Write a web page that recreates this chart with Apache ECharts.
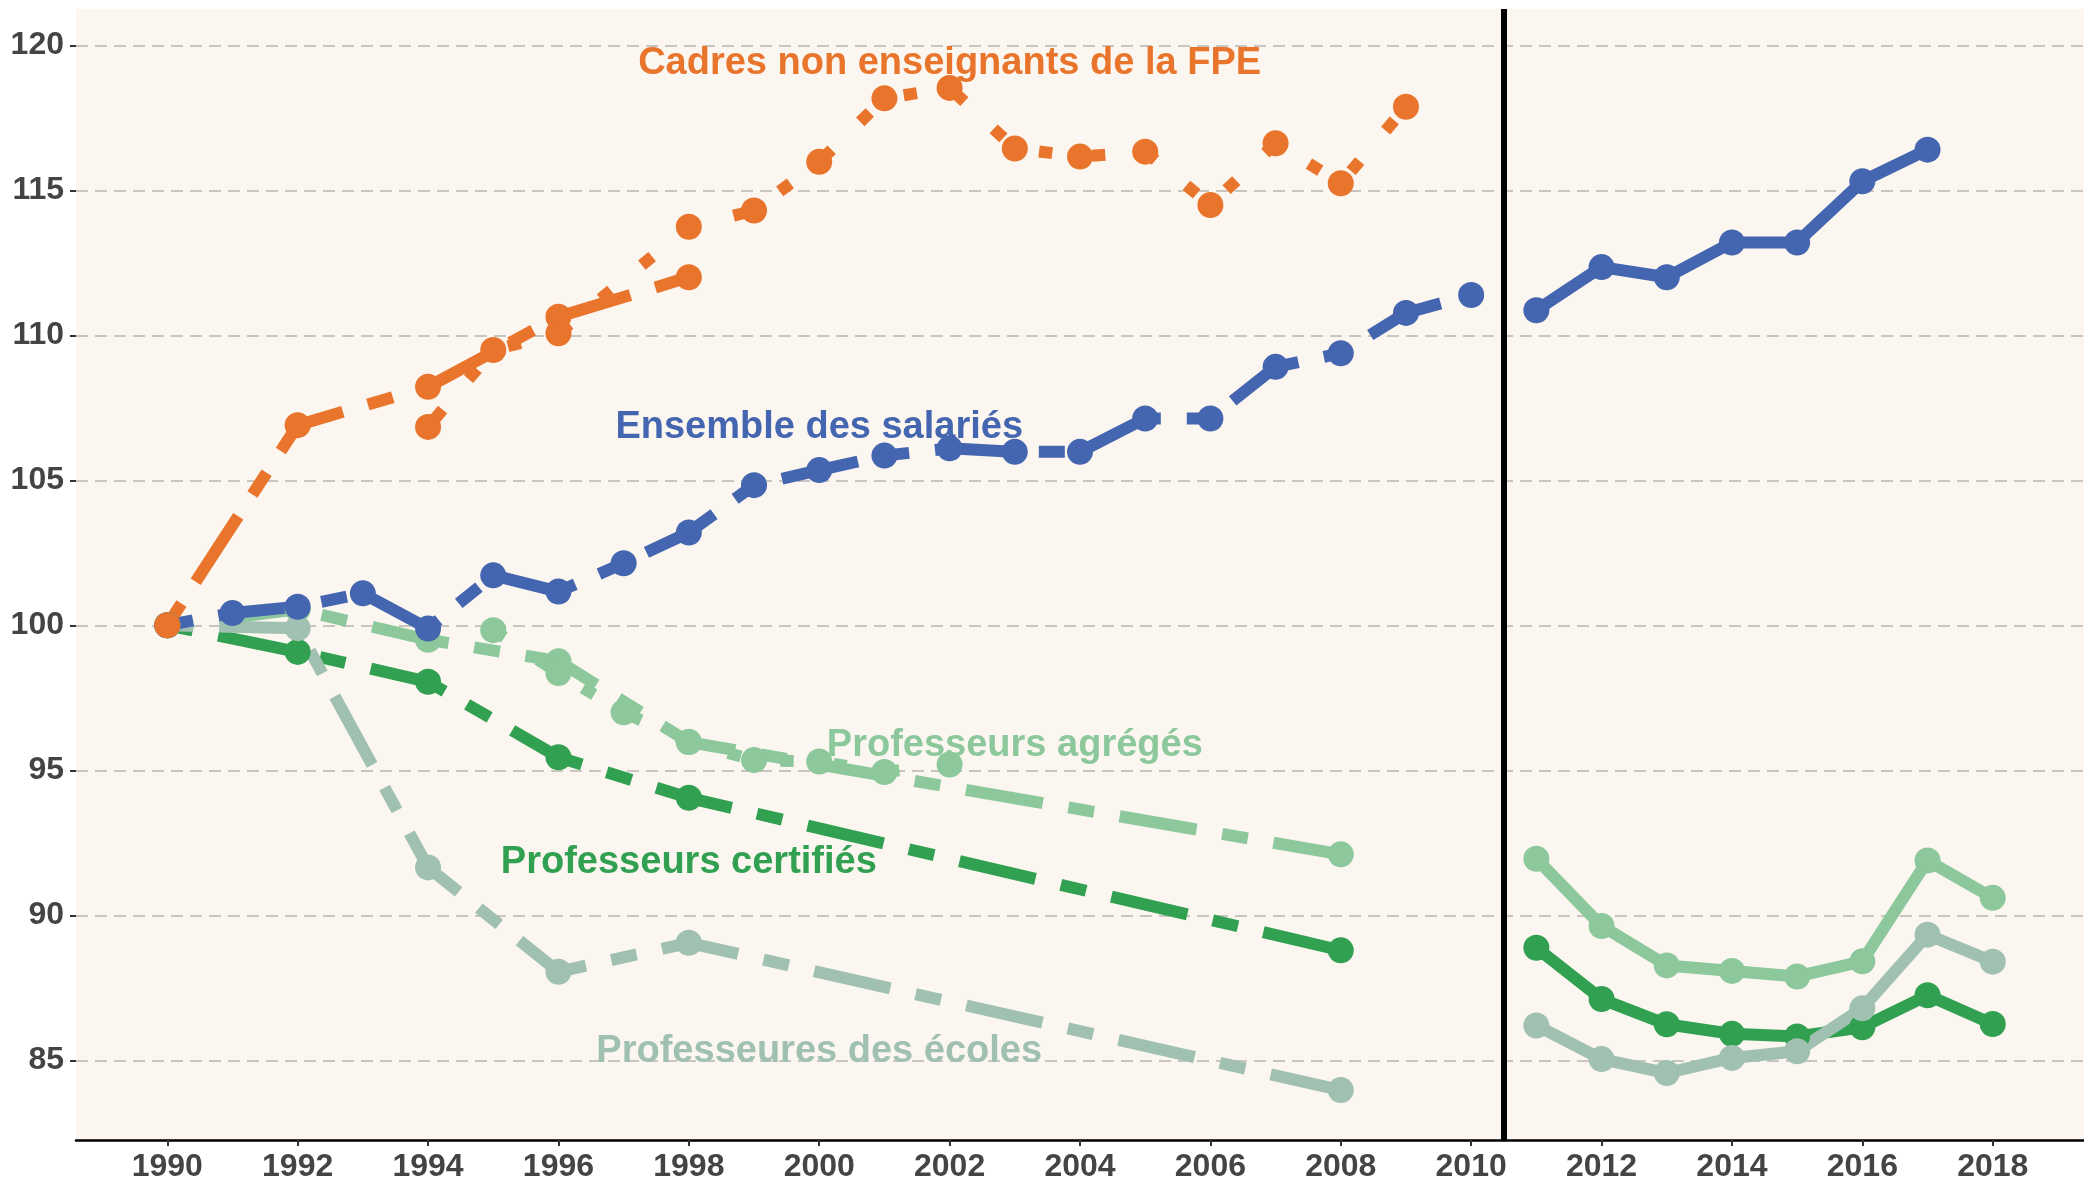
<!DOCTYPE html>
<html>
<head>
<meta charset="utf-8">
<script src="https://cdn.jsdelivr.net/npm/echarts@6/dist/echarts.min.js"></script>
<style>
html,body{margin:0;padding:0;background:#fff;}
#chart{width:2084px;height:1187px;}
</style>
</head>
<body>
<div id="chart"></div>
<script>
// ---------- data ----------
const xTicks = [1990,1992,1994,1996,1998,2000,2002,2004,2006,2008,2010,2012,2014,2016,2018];
const yTicks = [85,90,95,100,105,110,115,120];
const breakYear = 2010.5;

const cadresBiYears = [1990, 1992, 1994, 1996, 1998];
const cadresBiValues = [100, 106.9, 108.22, 110.64, 112.0];
const cadresYears = [1994, 1995, 1996, 1998, 1999, 2000, 2001, 2002, 2003, 2004, 2005, 2006, 2007, 2008, 2009];
const cadresValues = [106.84, 109.49, 110.07, 113.74, 114.3, 115.98, 118.17, 118.53, 116.44, 116.16, 116.33, 114.49, 116.62, 115.24, 117.88];

const ensemblePreYears = [1990,1991,1992,1993,1994,1995,1996,1997,1998,1999,2000,2001,2002,2003,2004,2005,2006,2007,2008,2009,2010];
const ensemblePreValues = [100, 100.42, 100.64, 101.1, 99.89, 101.72, 101.16, 102.14, 103.2, 104.83, 105.35, 105.85, 106.1, 105.98, 105.98, 107.13, 107.13, 108.91, 109.38, 110.77, 111.39];
const ensemblePostYears = [2011,2012,2013,2014,2015,2016,2017];
const ensemblePostValues = [110.86, 112.35, 112.0, 113.2, 113.2, 115.31, 116.4];

const teachPreYears = [1990, 1992, 1994, 1996, 1998, 2008];
const agregesPreValues = [100, 100.55, 99.5, 98.76, 95.97, 92.1];
const agregesAnYears = [1995, 1996, 1997, 1998, 1999, 2000, 2001, 2002];
const agregesAnValues = [99.83, 98.35, 97.0, 95.97, 95.35, 95.3, 94.94, 95.2];
const certifiesPreValues = [100, 99.08, 98.05, 95.45, 94.05, 88.79];
const ecolesPreValues = [100, 99.9, 91.65, 88.05, 89.05, 83.97];

const teachPostYears = [2011,2012,2013,2014,2015,2016,2017,2018];
const agregesPostValues = [91.95, 89.63, 88.27, 88.08, 87.89, 88.41, 91.89, 90.6];
const certifiesPostValues = [88.88, 87.11, 86.24, 85.91, 85.82, 86.14, 87.24, 86.25];
const ecolesPostValues = [86.2, 85.04, 84.56, 85.08, 85.31, 86.79, 89.33, 88.4];

const labelTexts = ['Cadres non enseignants de la FPE', 'Ensemble des salariés', 'Professeurs agrégés', 'Professeurs certifiés', 'Professeures des écoles'];
const labelX = [2002, 2000, 2003, 1998, 2000];
const labelY = [119.37, 106.81, 95.84, 91.81, 85.29];

// ---------- styles ----------
const C = {
  cadres: '#E9752C',
  ensemble: '#4465AF',
  agreges: '#8CC89B',
  certifies: '#31A051',
  ecoles: '#A0C1B1'
};
const labelColors = [C.cadres, C.ensemble, C.agreges, C.certifies, C.ecoles];
const LW = 12;
const TWODASH = [26, 26, 78, 26];
const DOTTED = [13.3, 40];
const SYM = 26;
const FONT = 'Liberation Sans, Arial, sans-serif';

function pairs(xs, ys){ return xs.map((x,i)=>[x, ys[i]]); }

const layers = [
  // bottom -> top
  {d: pairs(teachPreYears, certifiesPreValues), c: C.certifies, lt: TWODASH, off: 0},
  {d: pairs(teachPostYears, certifiesPostValues), c: C.certifies, lt: 'solid', off: 0},
  {d: pairs(teachPreYears, agregesPreValues), c: C.agreges, lt: TWODASH, off: 0},
  {d: pairs(agregesAnYears, agregesAnValues), c: C.agreges, lt: DOTTED, off: 0},
  {d: pairs(teachPostYears, agregesPostValues), c: C.agreges, lt: 'solid', off: 0},
  {d: pairs(teachPreYears, ecolesPreValues), c: C.ecoles, lt: TWODASH, off: 0},
  {d: pairs(teachPostYears, ecolesPostValues), c: C.ecoles, lt: 'solid', off: 0},
  {d: pairs(ensemblePreYears, ensemblePreValues), c: C.ensemble, lt: TWODASH, off: 0},
  {d: pairs(ensemblePostYears, ensemblePostValues), c: C.ensemble, lt: 'solid', off: 0},
  {d: pairs(cadresBiYears, cadresBiValues), c: C.cadres, lt: TWODASH, off: 0},
  {d: pairs(cadresYears, cadresValues), c: C.cadres, lt: DOTTED, off: 44}
];

const series = [];
layers.forEach((l) => {
  series.push({
    type: 'line',
    data: l.d,
    showSymbol: false,
    symbol: 'none',
    z: 2,
    lineStyle: {color: l.c, width: LW, type: l.lt, dashOffset: l.off, cap: 'butt', join: 'round', opacity: 1},
    silent: true
  });
});
layers.forEach((l) => {
  series.push({
    type: 'scatter',
    data: l.d,
    symbol: 'circle',
    symbolSize: SYM,
    z: 3,
    itemStyle: {color: l.c, opacity: 1},
    silent: true
  });
});
series.push({
  type: 'line',
  data: [],
  z: 4,
  markLine: {
    silent: true,
    symbol: 'none',
    label: {show: false},
    lineStyle: {color: '#000', width: 6, type: 'solid', opacity: 1},
    data: [{xAxis: breakYear}]
  }
});
series.push({
  type: 'scatter',
  z: 10,
  symbolSize: 1,
  itemStyle: {color: 'rgba(0,0,0,0)', opacity: 1},
  silent: true,
  data: labelTexts.map((t, i) => ({
    name: t,
    value: [labelX[i], labelY[i]],
    label: {color: labelColors[i]}
  })),
  label: {
    show: true,
    position: 'inside',
    formatter: '{b}',
    fontFamily: FONT,
    fontWeight: 'bold',
    fontSize: 38,
    opacity: 1,
    textBorderWidth: 0
  },
  labelLayout: {hideOverlap: false}
});

const chart = echarts.init(document.getElementById('chart'), null, {renderer: 'canvas'});
chart.setOption({
  animation: false,
  backgroundColor: '#ffffff',
  grid: {
    left: 76, right: 0, top: 9, bottom: 47,
    show: true,
    backgroundColor: '#FBF6F0',
    borderWidth: 0,
    containLabel: false,
    outerBoundsMode: 'none'
  },
  xAxis: {
    type: 'value',
    min: 1988.6,
    max: 2019.4,
    axisLine: {show: true, onZero: false, lineStyle: {color: '#000', width: 2.5}},
    axisTick: {show: true, length: 6, customValues: xTicks, lineStyle: {color: '#333', width: 2}},
    axisLabel: {
      customValues: xTicks,
      formatter: (v) => String(v),
      margin: 11,
      color: '#444',
      fontFamily: FONT,
      fontWeight: 'bold',
      fontSize: 32
    },
    splitLine: {show: false}
  },
  yAxis: {
    type: 'value',
    min: 82.25,
    max: 121.25,
    axisLine: {show: false},
    axisTick: {show: true, length: 6, customValues: yTicks, lineStyle: {color: '#333', width: 2}},
    axisLabel: {
      customValues: yTicks,
      formatter: (v) => String(v),
      margin: 12,
      color: '#444',
      fontFamily: FONT,
      fontWeight: 'bold',
      fontSize: 32
    },
    splitLine: {show: true, lineStyle: {color: '#C9C6C1', width: 2, type: [12, 7]}}
  },
  series: series
});
</script>
</body>
</html>
